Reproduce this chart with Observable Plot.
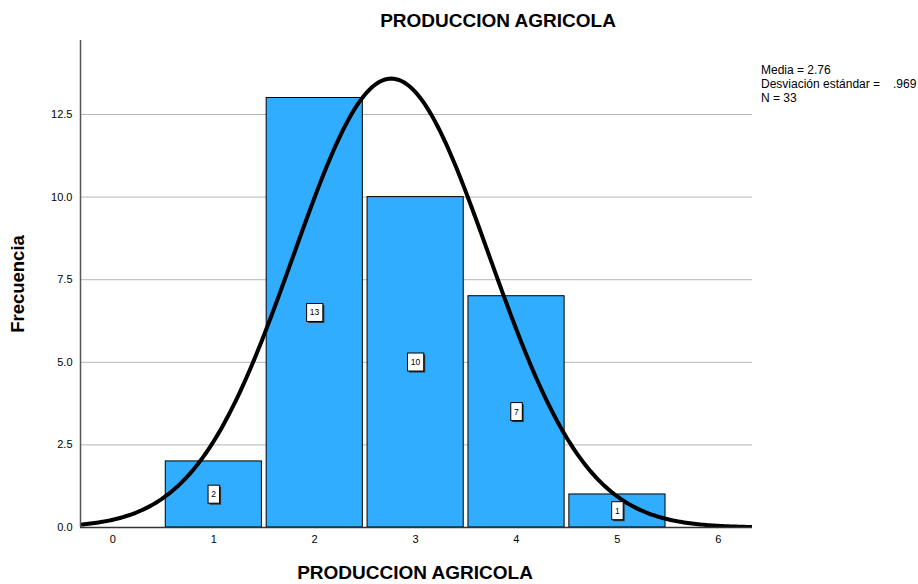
<!DOCTYPE html>
<html><head><meta charset="utf-8">
<script src="https://cdn.jsdelivr.net/npm/d3@7"></script>
<script src="https://cdn.jsdelivr.net/npm/@observablehq/plot@0.6"></script>
<style>
body{margin:0;background:#fff;font-family:"Liberation Sans",Arial,sans-serif;color:#000}
#wrap{position:relative;width:918px;height:584px;overflow:hidden}
#title{position:absolute;left:498px;top:10px;transform:translateX(-50%);font-weight:bold;font-size:19px;white-space:nowrap}
#xlabel{position:absolute;left:415px;top:562px;transform:translateX(-50%);font-weight:bold;font-size:19px;white-space:nowrap}
#ylabel{position:absolute;left:18px;top:284px;transform:translate(-50%,-50%) rotate(-90deg);font-weight:bold;font-size:18.5px;white-space:nowrap}
#legend{position:absolute;left:761px;top:63px;font-size:12px;line-height:14px;white-space:nowrap}
#legend span.v{position:absolute;left:132px}
#chart{position:absolute;left:0;top:40px}
</style>
</head><body>
<div id="wrap">
  <div id="title">PRODUCCION AGRICOLA</div>
  <div id="chart"></div>
  <div id="xlabel">PRODUCCION AGRICOLA</div>
  <div id="ylabel">Frecuencia</div>
  <div id="legend"></div>
</div>
<script>
const categories = [1, 2, 3, 4, 5];
const counts = [2, 13, 10, 7, 1];
const meanVal = 2.76;
const sdVal = 0.969;
const nVal = 33;
const xTicks = [0, 1, 2, 3, 4, 5, 6];
const yTicks = [0, 2.5, 5, 7.5, 10, 12.5];
const gridTicks = [2.5, 5, 7.5, 10, 12.5];
const legendLines = [["Media = 2.76", ""], ["Desviación estándar =", ".969"], ["N = 33", ""]];

const xDomain = [-0.32, 6.34];
const yDomain = [0, 14.74];

const bars = categories.map((c, i) => ({x1: c - 0.475, x2: c + 0.478, y: counts[i], c, n: counts[i]}));
const curve = d3.range(xDomain[0], xDomain[1] + 0.001, 0.02).map(x => ({
  x, y: nVal / (sdVal * Math.sqrt(2 * Math.PI)) * Math.exp(-0.5 * ((x - meanVal) / sdVal) ** 2)
}));

const plot = Plot.plot({
  width: 918, height: 544,
  marginLeft: 80, marginRight: 166, marginTop: 0, marginBottom: 57,
  style: {fontFamily: '"Liberation Sans", Arial, sans-serif', fontSize: "11px", color: "#000", background: "#fff"},
  x: {domain: xDomain, ticks: xTicks, tickSize: 0, tickPadding: 8, tickFormat: d => String(d), label: null},
  y: {domain: yDomain, ticks: yTicks, tickSize: 0, tickPadding: 8, tickFormat: d => d.toFixed(1), label: null},
  marks: [
    Plot.ruleY(gridTicks, {stroke: "#b5b5b5", strokeWidth: 1}),
    Plot.rectY(bars, {x1: "x1", x2: "x2", y: "y", fill: "#31adff", stroke: "#000", strokeWidth: 1}),
    Plot.line(curve, {x: "x", y: "y", stroke: "#000", strokeWidth: 4, clip: true}),
    Plot.ruleX([xDomain[0]], {stroke: "#555", strokeWidth: 1.5}),
    Plot.ruleY([0], {stroke: "#333", strokeWidth: 1.5}),
    Plot.text(bars, {x: "c", y: d => d.n / 2, text: d => String(d.n), fontSize: 8.5, fill: "#000", className: "lbl"})
  ]
});
document.getElementById("chart").appendChild(plot);

// white boxes with shadow behind the count labels
const ns = "http://www.w3.org/2000/svg";
plot.querySelectorAll(".lbl text").forEach(t => {
  const b = t.getBBox();
  const w = b.width + 6.5, h = 18;
  const cx = b.x + b.width / 2, cy = b.y + b.height / 2;
  const tr = t.getAttribute("transform") || "";
  const g = document.createElementNS(ns, "g");
  if (tr) g.setAttribute("transform", tr);
  const sh = document.createElementNS(ns, "rect");
  sh.setAttribute("x", cx - w / 2 + 1.5); sh.setAttribute("y", cy - h / 2 + 1.5);
  sh.setAttribute("width", w); sh.setAttribute("height", h);
  sh.setAttribute("fill", "#333");
  const r = document.createElementNS(ns, "rect");
  r.setAttribute("x", cx - w / 2); r.setAttribute("y", cy - h / 2);
  r.setAttribute("width", w); r.setAttribute("height", h);
  r.setAttribute("fill", "#fff"); r.setAttribute("stroke", "#000"); r.setAttribute("stroke-width", 1);
  g.appendChild(sh); g.appendChild(r);
  t.parentNode.insertBefore(g, t);
});

const lg = document.getElementById("legend");
legendLines.forEach(([a, v]) => {
  const d = document.createElement("div");
  d.style.position = "relative";
  d.textContent = a;
  if (v) { const s = document.createElement("span"); s.className = "v"; s.textContent = v; d.appendChild(s); }
  lg.appendChild(d);
});
</script>
</body></html>
